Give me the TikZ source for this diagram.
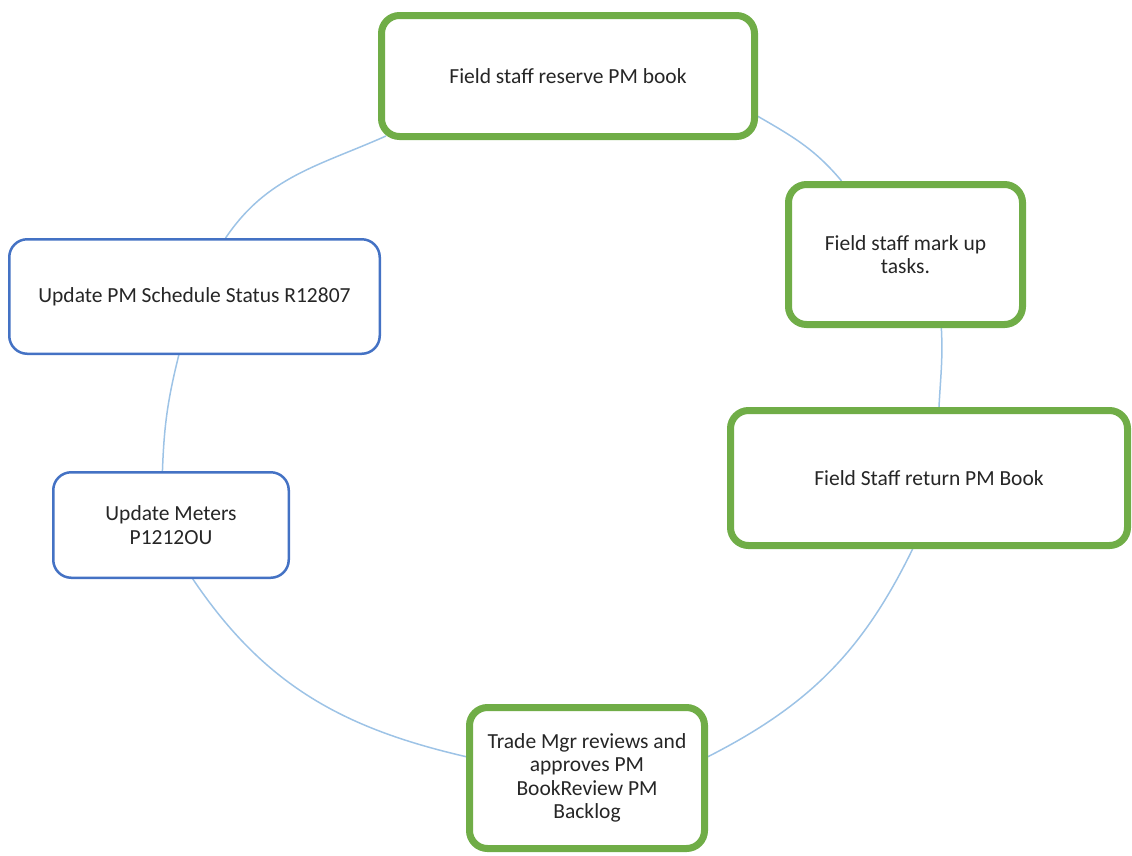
\documentclass[tikz,border=0pt]{standalone}
\usepackage{fontspec}
\setmainfont{Carlito}
\usepackage{xcolor}
\usepackage{tikz}
\usetikzlibrary{backgrounds}
\definecolor{stagegreen}{RGB}{112,173,71}
\definecolor{stageblue}{RGB}{68,114,196}
\definecolor{ringblue}{RGB}{157,195,230}

\begin{document}
\begin{tikzpicture}[x=1pt,y=-1pt]
        \tikzstyle{stage} = [draw,fill=white,rounded corners=18pt,align=center,text=black!85,font=\fontsize{21.5}{23.5}\selectfont,inner sep=0pt]
        \tikzstyle{done} = [stage,draw=stagegreen,line width=7pt]
        \tikzstyle{update} = [stage,draw=stageblue,line width=2.5pt]
        \tikzstyle{ring} = [draw=ringblue,line width=1.5pt]
        %
        \useasboundingbox (0,0) rectangle (1132,855);
        % Green boxes.
        \node[done,minimum width=373pt,minimum height=121pt] (reserve) at (568,76) {Field staff reserve PM book};
        \node[done,minimum width=234pt,minimum height=140pt] (markup) at (905.5,254.5) {Field staff mark up\\tasks.};
        \node[done,minimum width=397pt,minimum height=135pt] (return) at (929,478) {Field Staff return PM Book};
        \node[done,minimum width=235pt,minimum height=141pt] (trade) at (587,778) {Trade Mgr reviews and\\approves PM\\BookReview PM\\Backlog};
        % Blue boxes.
        \node[update,minimum width=235.5pt,minimum height=105.5pt] (meters) at (171,525) {Update Meters\\P1212OU};
        \node[update,minimum width=370.5pt,minimum height=114.5pt] (schedule) at (194.5,296.5) {Update PM Schedule Status R12807};
        \begin{pgfonlayer}{background}
            % Draw the ring.
            \draw[ring] (reserve.-12) to[out=-30,in=130] (markup.131)
                (markup.-64) to[out=-87,in=87] (return.82)
                (return.-103) to[out=-116,in=27] (trade.10)
                (trade.170) to[out=167,in=-56] (meters.-68)
                (meters.99) to[out=88,in=-104] (schedule.-105)
                (schedule.62) to[out=56,in=204] ([xshift=8pt,yshift=4pt]reserve.south west);
        \end{pgfonlayer}
        %
\end{tikzpicture}
\end{document}
